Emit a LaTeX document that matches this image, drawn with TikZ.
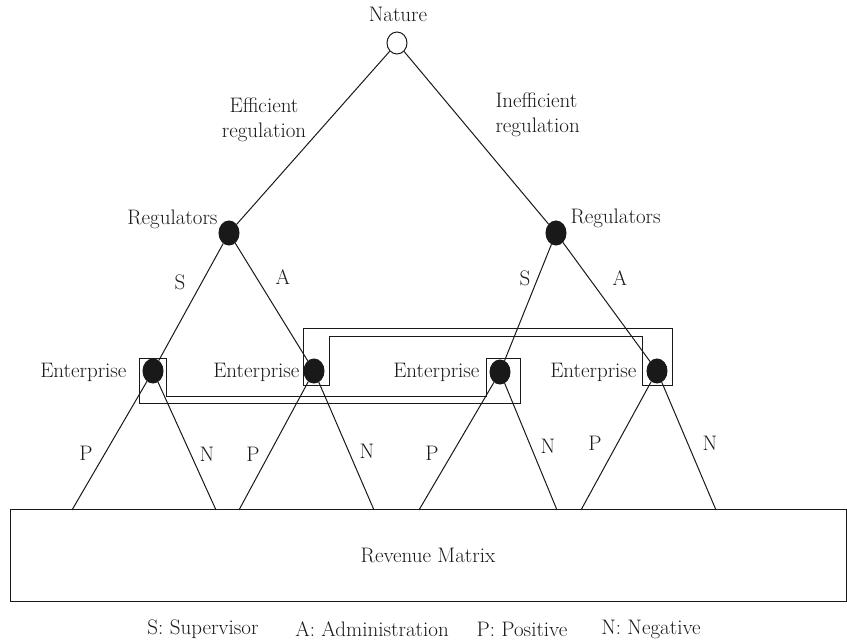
\documentclass[tikz,border=0pt]{standalone}
\usetikzlibrary{shapes.geometric}
\begin{document}
\begin{tikzpicture}[x=1pt,y=-1pt,
  font=\fontsize{21}{25}\selectfont,
  line width=1pt, color={black!90},
  opennode/.style={ellipse,draw,fill=white,minimum width=20pt,minimum height=22pt,inner sep=0pt},
  dotnode/.style={ellipse,draw,fill={black!90},minimum width=20pt,minimum height=24pt,inner sep=0pt},
  lbl/.style={inner sep=0pt},
  branch/.style={draw},
  infoset/.style={draw}]
\useasboundingbox (0,0) rectangle (847,644);

% tree nodes
\node[opennode] (nat) at (397,43) {};
\node[dotnode] (r1) at (229,233) {};
\node[dotnode] (r2) at (556,233) {};
\node[dotnode] (e1) at (153,371) {};
\node[dotnode] (e2) at (314,371) {};
\node[dotnode] (e3) at (500,372) {};
\node[dotnode] (e4) at (657,371) {};

% revenue matrix
\node[draw,minimum width=836pt,minimum height=91pt,inner sep=0pt] (rev) at (428,555.5) {Revenue Matrix};

% leaf points on the matrix
\coordinate (l1) at (72,510);
\coordinate (l2) at (216,510);
\coordinate (l3) at (239,510);
\coordinate (l4) at (374,510);
\coordinate (l5) at (419,510);
\coordinate (l6) at (557,510);
\coordinate (l7) at (581,510);
\coordinate (l8) at (716,510);

% branches
\draw[branch] (nat) -- (r1);
\draw[branch] (nat) -- (r2);
\draw[branch] (r1) -- (e1);
\draw[branch] (r1) -- (e2);
\draw[branch] (r2) -- (e3);
\draw[branch] (r2) -- (e4);
\draw[branch] (e1) -- (l1);
\draw[branch] (e1) -- (l2);
\draw[branch] (e2) -- (l3);
\draw[branch] (e2) -- (l4);
\draw[branch] (e3) -- (l5);
\draw[branch] (e3) -- (l6);
\draw[branch] (e4) -- (l7);
\draw[branch] (e4) -- (l8);

% information sets
\draw[infoset] (139,359) -- (166,359) -- (166,397) -- (486,397) -- (486,359) -- (520,359) -- (520,404) -- (139,404) -- cycle;
\draw[infoset] (303,329) -- (672,329) -- (672,386) -- (642,386) -- (642,337) -- (329,337) -- (329,386) -- (303,386) -- cycle;

% labels
\node[lbl] (natl) at (398,14) {Nature};
\node[lbl,align=center] (effl) at (264,120) {Efficient\\regulation};
\node[lbl,align=left,anchor=west] (ineffl) at (495,115) {Inefficient\\regulation};
\node[lbl,anchor=east] (reg1l) at (218,219) {Regulators};
\node[lbl,anchor=west] (reg2l) at (570,218) {Regulators};
\node[lbl] (s1) at (180,282) {S};
\node[lbl] (a1) at (283,277) {A};
\node[lbl] (s2) at (525,278) {S};
\node[lbl] (a2) at (620,278) {A};
\node[lbl,anchor=east] (en1) at (127,372) {Enterprise};
\node[lbl,anchor=east] (en2) at (300,372) {Enterprise};
\node[lbl,anchor=east] (en3) at (480,372) {Enterprise};
\node[lbl,anchor=east] (en4) at (637,372) {Enterprise};
\node[lbl] (p1) at (86,453) {P};
\node[lbl] (n1) at (207,454) {N};
\node[lbl] (p2) at (253,454) {P};
\node[lbl] (n2) at (367,451) {N};
\node[lbl] (p3) at (432,453) {P};
\node[lbl] (n3) at (548,446) {N};
\node[lbl] (p4) at (595,443) {P};
\node[lbl] (n4) at (710,443) {N};

% legend
\node[lbl] (leg1) at (203,629) {S: Supervisor};
\node[lbl] (leg2) at (372,629) {A: Administration};
\node[lbl] (leg3) at (522,629) {P: Positive};
\node[lbl] (leg4) at (651,629) {N: Negative};
\end{tikzpicture}
\end{document}
